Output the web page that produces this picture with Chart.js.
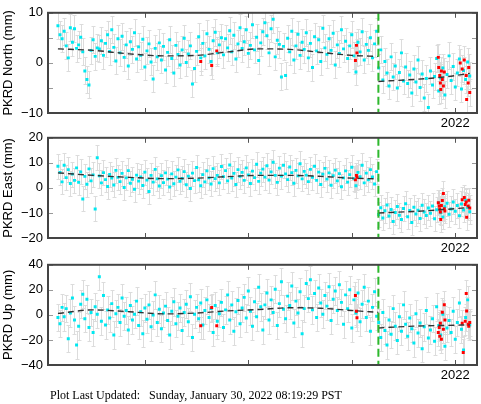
<!DOCTYPE html>
<html>
<head>
<meta charset="utf-8">
<script src="https://cdn.jsdelivr.net/npm/chart.js@4.4.1/dist/chart.umd.min.js"></script>
<style>
  body { margin: 0; background: #fff; width: 481px; height: 404px; position: relative; overflow: hidden; }
  canvas { position: absolute; left: 0; }
  #footer { position: absolute; left: 50px; top: 388px; font: 12px 'Liberation Serif', 'Times New Roman', serif; white-space: pre; color: #000; }
</style>
</head>
<body>
<canvas id="north" width="481" height="129" style="top:0px"></canvas>
<canvas id="east" width="481" height="129" style="top:125px"></canvas>
<canvas id="up" width="481" height="129" style="top:252px"></canvas>
<div id="footer">Plot Last Updated:   Sunday, January 30, 2022 08:19:29 PST</div>
<script>
// time axis (decimal years), daily solutions thinned to one per ~week
const T0 = 2018.16;
const DT = 0.02;
const X_MIN = 2018.064;
const X_MAX = 2022.21;
const yearTicks = [2019, 2020, 2021, 2022];
const breakYear = 2021.257;

// cyan: regular solutions (mm)
const northValues = [
  7.4, 5.6, 4.8, 6.3, 3.4, 1.0, 7.0, 4.1, 6.8, 2.9,
  3.6, 5.1, 2.2, -1.6, -3.3, -4.4, 2.5, 4.6, 1.3, 3.0,
  2.8, 4.4, 1.5, 3.9, 5.6, 2.3, 6.6, 3.1, 0.4, 4.8,
  2.0, 5.3, 1.1, 3.6, -0.6, 4.2, 2.7, 6.0, 0.8, 3.2,
  1.5, 4.7, -0.8, 2.4, 3.8, 0.2, -3.2, 2.9, 1.2, 4.0,
  0.6, 3.3, -1.4, 2.1, 4.6, 0.9, -2.0, 3.5, 1.7, -0.4,
  2.6, 4.9, 0.1, 1.8, 3.4, -4.2, -1.1, 2.3, 5.2, 1.0,
  3.9, 1.4, 5.8, 2.7, 0.3, 4.4, 6.1, 2.0, 3.6, 5.0,
  1.6, 4.8, 3.0, 6.4, 2.2, 5.5, 0.8, 3.8, 7.0, 2.9,
  4.2, 6.6, 1.9, 3.5, 7.6, 2.6, 5.1, 0.5, 4.0, 6.2,
  8.0, 5.4, 2.0, 6.8, 8.7, 1.2, 4.5, 3.7, -2.8, 3.3,
  -2.5, 4.9, 2.2, 6.3, 0.6, 3.4, 5.7, 1.5, 4.1, 2.7,
  6.0, 1.0, 3.9, -0.9, 5.2, 2.4, 4.6, 0.3, 6.9, 3.0,
  1.7, 4.8, 2.5, 5.9, -0.4, 3.6, 1.9, 6.6, 2.8, 4.3,
  0.9, 3.4, 5.6, 1.4, -1.8, 4.1, 2.2, 6.2, 0.6, 3.7,
  2.5, 5.0, 1.0, 3.8, 6.3,
  -1.0, 2.6, -3.4, 0.3, -2.0,
  -4.6, 1.2, -2.8, -0.6, -5.0, -1.9, 2.0, -3.6, -0.8, -4.1,
  -2.4, -6.0, -1.2, -3.8, 0.6, -4.9, -2.2, -7.0, -3.1, -8.9,
  -1.6, -4.4, -2.7, 0.9, -5.6, -3.0, -1.0, -6.4, -2.3, 1.4,
  -3.5, -0.7, -4.8, -2.0, 0.8, -5.2, -1.5, -3.3, 0.2, -2.6
];
const eastValues = [
  8.6, 6.2, 2.4, 9.0, 4.1, 7.3, 1.8, 5.5, 3.0, 8.0,
  2.2, 6.4, -4.4, 4.6, 1.5, 7.6, 2.8, 5.2, -8.4, 12.0,
  4.8, 2.0, 6.1, 3.3, 0.6, 5.4, 3.9, 1.2, 7.0, 4.2,
  2.5, 5.8, 0.2, 4.0, 6.9, 1.9, 3.4, -0.5, 5.1, 2.7,
  4.4, 1.0, 6.3, 3.1, -1.4, 5.0, 2.3, 7.4, 3.6, 0.8,
  4.9, 2.1, 6.0, 3.5, 0.4, 5.6, 1.7, 4.3, 7.2, 2.6,
  3.8, 6.5, 1.3, 4.7, -0.2, 5.9, 2.9, 8.1, 3.2, 0.9,
  5.3, 2.4, 6.8, 4.0, 1.6, 7.7, 3.7, 5.0, 2.0, 8.5,
  4.5, 6.9, 2.8, 9.1, 3.9, 5.8, 1.4, 7.3, 4.6, 6.2,
  3.0, 8.0, 5.2, 1.8, 6.7, 4.1, 9.4, 2.6, 5.9, 7.5,
  4.3, 8.8, 3.1, 6.4, 10.2, 5.0, 2.2, 7.9, 4.7, 9.0,
  5.6, 3.3, 8.3, 6.1, 1.9, 7.0, 4.8, 9.6, 3.6, 6.6,
  5.1, 2.5, 7.4, 4.2, 8.6, 3.0, 6.3, 1.4, 5.5, 7.8,
  3.5, 6.0, 1.1, 4.9, 7.1, 2.8, 5.7, 0.5, 4.0, 6.8,
  2.3, 5.3, 8.2, 3.7, 0.9, 6.2, 4.5, 9.0, 2.0, 5.9,
  3.2, 7.3, 4.4, 1.6, 6.5,
  -10.6, -7.9, -12.0, -9.1, -6.8,
  -11.2, -8.6, -13.4, -9.8, -7.4, -10.9, -12.6, -8.2, -6.3, -11.5,
  -9.0, -13.8, -7.7, -10.4, -8.9, -12.2, -6.9, -9.6, -11.0, -8.0,
  -10.1, -7.2, -12.3, -8.7, -5.9, -9.9, -11.6, -7.5, -6.1, -10.5,
  -8.4, -5.6, -9.3, -7.0, -11.1, -6.4, -8.8, -4.9, -7.8, -9.5
];
const upValues = [
  -2.0, -7.0, 6.0, -1.5, 5.0, -19.0, 1.5, 13.5, -4.0, -24.0,
  -9.0, 8.5, 16.5, -3.0, 12.5, -10.0, 2.0, -14.0, 6.5, 0.5,
  30.5, -5.0, 15.5, -8.0, 4.0, -2.5, 9.0, -16.0, 1.0, 6.0,
  -6.0, 13.5, -1.0, 3.5, -12.0, 7.5, -4.0, 0.5, 11.0, -8.5,
  2.5, -15.0, 5.5, -3.5, 8.0, -9.5, 0.0, 16.0, -6.0, 4.5,
  -11.0, 1.5, 7.0, -4.5, -16.0, 3.0, 10.5, -7.0, -1.0, 5.5,
  -12.5, 2.0, 8.5, -5.5, 14.5, -18.0, 0.5, 6.0, -3.0, 9.5,
  -8.0, 3.5, 12.0, -2.0, 5.0, -14.0, 7.5, -5.0, 1.0, 10.0,
  -10.0, 4.0, 16.0, -4.0, 8.0, -13.0, 2.5, 11.5, -7.0, 5.5,
  14.0, -2.5, 19.0, 3.0, -9.0, 10.5, -1.5, 22.0, 6.5, -12.0,
  8.0, 17.5, -4.0, 12.0, 2.0, 20.5, -8.5, 9.0, 26.5, 4.5,
  -3.0, 15.0, 7.5, 23.0, -6.5, 11.0, 1.5, 18.5, -15.0, 5.0,
  25.0, 13.0, 28.0, 4.0, 17.0, -2.0, 21.5, 9.5, 0.5, 15.5,
  7.0, 22.5, -4.5, 12.5, 19.0, 3.5, 24.0, 10.0, -7.5, 16.0,
  5.0, 20.0, -10.5, 12.0, 1.5, 17.5, -5.5, 8.5, 22.0, -2.0,
  11.0, -13.0, 6.0, 18.5, -1.0,
  -6.0, -18.0, 2.0, -12.5, -24.0,
  -4.0, -15.5, 5.0, -9.0, -20.5, -1.5, -13.0, 8.0, -7.5, -17.0,
  -2.5, -11.0, -22.5, 1.0, -14.5, -6.5, -27.0, -9.5, 3.5, -18.5,
  -12.0, -3.0, -21.0, 6.5, -8.5, -16.0, 0.5, -25.0, -10.5, -4.5,
  -14.0, 3.0, -19.5, -6.0, 9.5, -11.5, -28.0, -2.0, 12.0, -8.0
];

// red: rapid / flagged solutions [year, mm]
const northRed = [
  [2019.54, 0.3], [2019.646, -0.5], [2019.695, 2.4], [2021.035, 0.5], [2021.045, 3.5], [2021.05, 2.0],
  [2021.836, 1.1], [2021.84, -0.9], [2021.85, -2.5], [2021.856, -4.0], [2021.86, -5.3], [2021.866, -1.6],
  [2021.875, -3.3], [2021.885, -4.6], [2021.894, -1.8], [2022.048, 0.0], [2022.067, -1.2], [2022.087, 0.6],
  [2022.106, -2.5], [2022.11, -7.3], [2022.125, -4.0], [2022.14, -5.9], [2022.13, -0.9]
];
const eastRed = [
  [2021.035, 3.2], [2021.045, 5.0], [2021.05, 4.2],
  [2021.836, -5.9], [2021.845, -7.2], [2021.85, -8.4], [2021.856, -9.6], [2021.86, -12.6], [2021.866, -7.0],
  [2021.875, -5.0], [2021.885, -2.2], [2021.894, -8.3], [2021.9, -9.2],
  [2022.067, -4.7], [2022.087, -3.8], [2022.096, -6.6], [2022.106, -5.6], [2022.11, -11.7], [2022.125, -7.2],
  [2022.14, -8.0], [2022.13, -4.9]
];
const upRed = [
  [2019.54, -8.6], [2019.646, 5.9], [2019.695, -8.6], [2021.035, 15.5], [2021.045, 3.0], [2021.05, -2.2],
  [2021.836, -14.0], [2021.845, -10.0], [2021.85, -17.0], [2021.856, -6.7], [2021.866, -19.5], [2021.875, 2.1],
  [2021.885, -11.5], [2021.894, 8.1], [2021.9, -4.0],
  [2022.067, -6.7], [2022.077, -30.0], [2022.096, -5.0], [2022.106, 17.0], [2022.11, 3.2], [2022.125, -7.5],
  [2022.14, -6.0], [2022.13, -9.0]
];

// dashed model (trend + seasonal), before and after the offset
const modelPreYears = [2018.16, 2018.5, 2018.85, 2019.2, 2019.5, 2019.8, 2020.1, 2020.4, 2020.7, 2021.0, 2021.257];
const modelPostYears = [2021.257, 2021.6, 2021.9, 2022.14];
const northModelPre = [2.8, 2.5, 1.8, 1.4, 1.5, 2.2, 2.8, 2.7, 2.1, 1.5, 1.3];
const northModelPost = [-3.7, -3.3, -2.8, -2.1];
const eastModelPre = [6.0, 5.0, 4.2, 3.7, 3.9, 4.5, 5.0, 5.0, 4.6, 3.9, 3.6];
const eastModelPost = [-10.0, -9.4, -8.6, -7.8];
const upModelPre = [1.2, 4.0, 2.5, 0.8, 1.5, 3.2, 4.3, 5.7, 5.3, 3.5, 2.0];
const upModelPost = [-10.4, -9.0, -8.4, -7.9];

// one-sigma error bar per component (mm)
const northSigma = 2.7;
const eastSigma = 5.0;
const upSigma = 11;

const errorBarPlugin = {
  id: 'errorBars',
  beforeDatasetsDraw(chart, args, opts) {
    const { ctx, chartArea: a, scales: { y } } = chart;
    ctx.save();
    ctx.beginPath();
    ctx.rect(a.left, a.top, a.width, a.height);
    ctx.clip();
    ctx.strokeStyle = '#dcdcdc';
    ctx.lineWidth = 1;
    ctx.beginPath();
    chart.data.datasets.forEach((ds, di) => {
      if (!ds.errorBars) return;
      chart.getDatasetMeta(di).data.forEach((pt, i) => {
        const v = ds.data[i].y;
        const y0 = Math.round(y.getPixelForValue(v - opts.sigma)) + 0.5;
        const y1 = Math.round(y.getPixelForValue(v + opts.sigma)) + 0.5;
        const px = Math.round(pt.x) + 0.5;
        ctx.moveTo(px, y0); ctx.lineTo(px, y1);
        ctx.moveTo(px - 2, y0); ctx.lineTo(px + 2, y0);
        ctx.moveTo(px - 2, y1); ctx.lineTo(px + 2, y1);
      });
    });
    ctx.stroke();
    ctx.restore();
  },
};

const framePlugin = {
  id: 'frame',
  afterDatasetsDraw(chart) {
    const { ctx, chartArea: a, scales: { x, y } } = chart;
    ctx.save();
    const bx = x.getPixelForValue(breakYear);
    ctx.strokeStyle = '#2db82d';
    ctx.lineWidth = 2;
    ctx.setLineDash([8, 4]);
    ctx.beginPath();
    ctx.moveTo(bx, a.top);
    ctx.lineTo(bx, a.bottom);
    ctx.stroke();
    ctx.setLineDash([]);

    ctx.lineWidth = 1;
    ctx.strokeStyle = '#999';
    ctx.beginPath();
    y.ticks.forEach((t) => {
      const py = Math.round(y.getPixelForValue(t.value)) + 0.5;
      ctx.moveTo(a.left, py); ctx.lineTo(a.left + 5, py);
      ctx.moveTo(a.right, py); ctx.lineTo(a.right - 5, py);
    });
    ctx.stroke();
    ctx.strokeStyle = '#555';
    ctx.beginPath();
    x.ticks.forEach((t) => {
      const px = Math.round(x.getPixelForValue(t.value)) + 0.5;
      ctx.moveTo(px, a.top); ctx.lineTo(px, a.top + 5);
      ctx.moveTo(px, a.bottom); ctx.lineTo(px, a.bottom - 5);
    });
    ctx.stroke();

    ctx.strokeStyle = '#444';
    ctx.lineWidth = 2;
    ctx.strokeRect(a.left, a.top, a.width, a.height);
    ctx.restore();
  },
};

const font = { family: "'Liberation Sans', Arial, Helvetica, sans-serif", size: 13 };

function makePanel(id, title, yMin, yMax, yStep, sigma, values, red, modelPre, modelPost) {
  const cyan = values.map((v, i) => ({ x: T0 + i * DT, y: v }));
  const flagged = red.map(([t, v]) => ({ x: t, y: v }));
  const pre = modelPreYears.map((t, i) => ({ x: t, y: modelPre[i] }));
  const post = modelPostYears.map((t, i) => ({ x: t, y: modelPost[i] }));
  const lineStyle = {
    showLine: true, pointRadius: 0, borderColor: '#333', borderWidth: 1.4,
    borderDash: [6, 4], cubicInterpolationMode: 'monotone', order: 0,
  };

  return new Chart(document.getElementById(id), {
    type: 'scatter',
    data: {
      datasets: [
        { data: pre, ...lineStyle },
        { data: post, ...lineStyle },
        { data: flagged, errorBars: true, pointStyle: 'rect', pointRadius: 2.1, borderWidth: 0, backgroundColor: '#ff0000', order: 1 },
        { data: cyan, errorBars: true, pointStyle: 'rect', pointRadius: 2.1, borderWidth: 0, backgroundColor: '#00e8f0', order: 2 },
      ],
    },
    options: {
      responsive: false,
      animation: false,
      events: [],
      layout: { padding: { top: 5, right: 3, left: 0, bottom: 0 } },
      plugins: {
        legend: { display: false },
        tooltip: { enabled: false },
        errorBars: { sigma },
      },
      scales: {
        x: {
          type: 'linear',
          min: X_MIN,
          max: X_MAX,
          grid: { display: false, drawTicks: false },
          border: { display: false },
          afterBuildTicks(scale) { scale.ticks = yearTicks.map((v) => ({ value: v })); },
          afterFit(scale) { scale.height = 16; },
          ticks: {
            padding: 3,
            color: '#000',
            font,
            maxRotation: 0,
            autoSkip: false,
            callback: (v) => (v === 2022 ? '2022' : ''),
          },
        },
        y: {
          min: yMin,
          max: yMax,
          grid: { display: false, drawTicks: false },
          border: { display: false },
          afterFit(scale) { scale.width = 48; },
          ticks: {
            stepSize: yStep,
            padding: 5,
            color: '#000',
            font,
            callback: (v) => (v % (yStep * 2) === 0 ? String(v).replace('-', '\u2212') : ''),
          },
          title: { display: true, text: title, color: '#000', font, padding: { top: 1, bottom: 0 } },
        },
      },
    },
    plugins: [errorBarPlugin, framePlugin],
  });
}

makePanel('north', 'PKRD North (mm)', -10, 10, 5, northSigma, northValues, northRed, northModelPre, northModelPost);
makePanel('east', 'PKRD East (mm)', -20, 20, 5, eastSigma, eastValues, eastRed, eastModelPre, eastModelPost);
makePanel('up', 'PKRD Up (mm)', -40, 40, 10, upSigma, upValues, upRed, upModelPre, upModelPost);
</script>
</body>
</html>
